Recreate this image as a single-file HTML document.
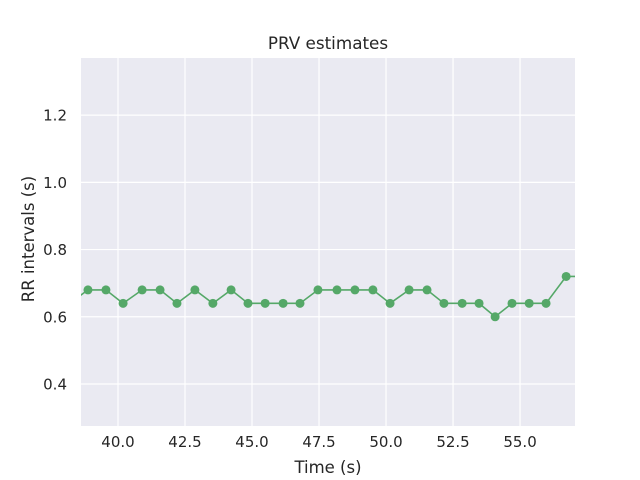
<!DOCTYPE html>
<html><head><meta charset="utf-8"><style>
body{margin:0;background:#fff;}
svg{display:block;font-family:"DejaVu Sans","Liberation Sans",sans-serif;}
</style></head><body>
<svg id="chart" width="640" height="480">
<defs><clipPath id="clip"><rect x="81" y="58" width="494" height="368"/></clipPath></defs>
<rect x="81" y="58" width="494" height="368" fill="#eaeaf2"/>
<g id="grid"></g>
<g id="series" clip-path="url(#clip)"></g>
<g id="ticks"></g>
<text x="328" y="49" text-anchor="middle" font-size="16.8" fill="#262626">PRV estimates</text>
<text x="328" y="473" text-anchor="middle" font-size="16.5" fill="#262626">Time (s)</text>
<text x="34" y="239" text-anchor="middle" font-size="16.5" fill="#262626" transform="rotate(-90 34 239)">RR intervals (s)</text>
</svg>
<script>
const times=[38.19,38.88,39.55,40.19,40.90,41.57,42.20,42.87,43.54,44.22,44.85,45.49,46.16,46.79,47.46,48.17,48.84,49.51,50.15,50.86,51.53,52.16,52.84,53.47,54.07,54.70,55.34,55.97,56.72,57.40];
const rr=[0.64,0.68,0.68,0.64,0.68,0.68,0.64,0.68,0.64,0.68,0.64,0.64,0.64,0.64,0.68,0.68,0.68,0.68,0.64,0.68,0.68,0.64,0.64,0.64,0.60,0.64,0.64,0.64,0.72,0.72];
const xTicks=[40.0,42.5,45.0,47.5,50.0,52.5,55.0];
const yTicks=[0.4,0.6,0.8,1.0,1.2];
const X0=81,X1=575,Y0=426,Y1=58,xmin=38.62,xmax=57.05,ymin=0.275,ymax=1.37;
const sx=v=>X0+(v-xmin)/(xmax-xmin)*(X1-X0);
const sy=v=>Y0-(v-ymin)/(ymax-ymin)*(Y0-Y1);
const NS="http://www.w3.org/2000/svg";
function mk(t,a,p){const e=document.createElementNS(NS,t);for(const k in a)e.setAttribute(k,a[k]);p.appendChild(e);return e;}
const grid=document.getElementById('grid'),ticks=document.getElementById('ticks'),ser=document.getElementById('series');
xTicks.forEach(v=>{
 const l=mk('line',{x1:sx(v),x2:sx(v),y1:Y1,y2:Y0,stroke:'#fff','stroke-width':1.2},grid);
 
 
 const t=mk('text',{x:sx(v),y:Y0+21,'text-anchor':'middle','font-size':15,fill:'#262626'},ticks);
 t.textContent=v.toFixed(1);
 
 
});
yTicks.forEach(v=>{
 const l=mk('line',{x1:X0,x2:X1,y1:sy(v),y2:sy(v),stroke:'#fff','stroke-width':1.2},grid);
 
 
 const t=mk('text',{x:X0-14,y:sy(v)+5.5,'text-anchor':'end','font-size':15,fill:'#262626'},ticks);
 t.textContent=v.toFixed(1);
 
 
});
const pts=times.map((t,i)=>sx(t)+','+sy(rr[i])).join(' ');
const pl=mk('polyline',{points:pts,fill:'none',stroke:'#55a868','stroke-width':1.6},ser);


times.forEach((t,i)=>{
 const c=mk('circle',{cx:sx(t),cy:sy(rr[i]),r:4.5,fill:'#55a868'},ser);
 
 
});
</script>
</body></html>
